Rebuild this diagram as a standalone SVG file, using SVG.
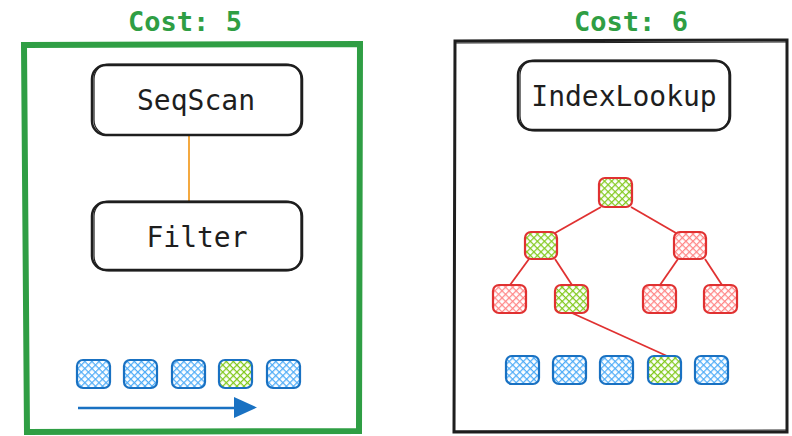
<svg xmlns="http://www.w3.org/2000/svg" width="792" height="436" viewBox="0 0 792 436">
<style>
.cost{font-family:"DejaVu Sans Mono","Liberation Mono",monospace;font-weight:bold;font-size:27px;fill:#2f9e44;text-anchor:middle}
.lbl{font-family:"DejaVu Sans Mono","Liberation Mono",monospace;font-size:28px;fill:#1e1e1e;text-anchor:middle}
.op{fill:#fff;stroke:#1e1e1e;stroke-width:2.5}
.op2{fill:none;stroke:#1e1e1e;stroke-width:1.2}
.blue{fill:url(#hb);stroke:#1971c2;stroke-width:2.2}
.bg{fill:url(#hg);stroke:#1971c2;stroke-width:2.2}
.red{fill:url(#hr);stroke:#e03131;stroke-width:2.2}
.rg{fill:url(#hg);stroke:#e03131;stroke-width:2.2}
.edge{stroke:#e03131;stroke-width:1.8;fill:none}
</style>
<defs>
<pattern id="hb" patternUnits="userSpaceOnUse" width="5" height="5" patternTransform="rotate(45)">
<rect width="5" height="5" fill="#fff"/><path d="M0 0H5M0 0V5" stroke="#4dabf7" stroke-width="2.5"/>
</pattern>
<pattern id="hg" patternUnits="userSpaceOnUse" width="5" height="5" patternTransform="rotate(45)">
<rect width="5" height="5" fill="#fff"/><path d="M0 0H5M0 0V5" stroke="#82c91e" stroke-width="2.5"/>
</pattern>
<pattern id="hr" patternUnits="userSpaceOnUse" width="5" height="5" patternTransform="rotate(45)">
<rect width="5" height="5" fill="#fff"/><path d="M0 0H5M0 0V5" stroke="#ff8787" stroke-width="2.5"/>
</pattern>
</defs>
<rect width="792" height="436" fill="#fff"/>

<g id="left-panel">
<text class="cost" x="185" y="31">Cost: 5</text>
<path d="M24 45 L360 44 L359 431 L27 432 Z" fill="none" stroke="#2f9e44" stroke-width="6"/>
</g>

<g id="right-panel">
<text class="cost" x="631" y="31">Cost: 6</text>
<path d="M455 41 L787 40 L787 432 L454 432 Z" fill="none" stroke="#1e1e1e" stroke-width="3"/>
<path d="M456 43 L786 42 M455 431 L786 430" fill="none" stroke="#1e1e1e" stroke-width="1"/>
</g>

<g id="connectors">
<line x1="189" y1="135" x2="189" y2="202" stroke="#f08c00" stroke-width="1.5"/>
<line x1="601" y1="207" x2="555" y2="233" class="edge"/>
<line x1="631" y1="207" x2="676" y2="233" class="edge"/>
<line x1="529" y1="259" x2="510" y2="285" class="edge"/>
<line x1="555" y1="259" x2="572" y2="285" class="edge"/>
<line x1="678" y1="259" x2="660" y2="285" class="edge"/>
<line x1="705" y1="259" x2="722" y2="285" class="edge"/>
<line x1="572" y1="313" x2="667" y2="356" class="edge"/>
<line x1="78" y1="408" x2="236" y2="408" stroke="#1971c2" stroke-width="2.5"/>
<path d="M234 397 L257 407.5 L234 418 Z" fill="#1971c2"/>
</g>

<g id="seqscan">
<rect class="op" x="92" y="65" width="210" height="70" rx="14"/>
<rect class="op2" x="94" y="64" width="207" height="71" rx="15"/>
<text class="lbl" x="196" y="110">SeqScan</text>
</g>
<g id="filter">
<rect class="op" x="92" y="202" width="210" height="68" rx="14"/>
<rect class="op2" x="94" y="201" width="207" height="70" rx="15"/>
<text class="lbl" x="197" y="247">Filter</text>
</g>
<g id="indexlookup">
<rect class="op" x="518" y="61" width="212" height="69" rx="14"/>
<rect class="op2" x="520" y="60" width="209" height="71" rx="15"/>
<text class="lbl" x="624" y="106">IndexLookup</text>
</g>

<g id="scan-rows">
<rect class="blue" x="77" y="360" width="33" height="28" rx="6"/>
<rect class="blue" x="124" y="360" width="33" height="28" rx="6"/>
<rect class="blue" x="172" y="360" width="33" height="28" rx="6"/>
<rect class="bg" x="219" y="360" width="33" height="28" rx="6"/>
<rect class="blue" x="267" y="360" width="33" height="28" rx="6"/>
</g>

<g id="tree">
<rect class="rg" x="599" y="178" width="33" height="29" rx="6"/>
<rect class="rg" x="525" y="232" width="32" height="27" rx="6"/>
<rect class="red" x="674" y="232" width="32" height="27" rx="6"/>
<rect class="red" x="493" y="285" width="33" height="28" rx="6"/>
<rect class="rg" x="555" y="285" width="33" height="28" rx="6"/>
<rect class="red" x="643" y="285" width="33" height="28" rx="6"/>
<rect class="red" x="704" y="285" width="33" height="28" rx="6"/>
</g>

<g id="index-rows">
<rect class="blue" x="506" y="356" width="33" height="28" rx="6"/>
<rect class="blue" x="553" y="356" width="33" height="28" rx="6"/>
<rect class="blue" x="600" y="356" width="33" height="28" rx="6"/>
<rect class="bg" x="648" y="356" width="33" height="28" rx="6"/>
<rect class="blue" x="695" y="356" width="33" height="28" rx="6"/>
</g>
</svg>
